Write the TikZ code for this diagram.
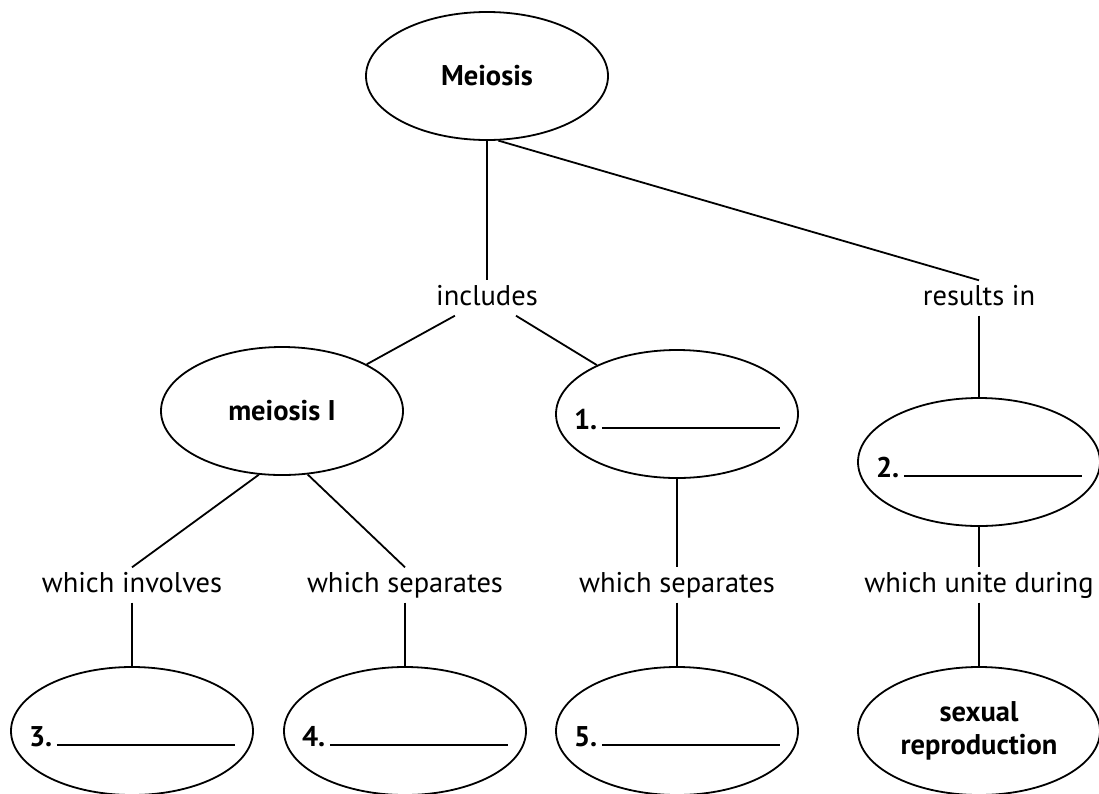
\documentclass[tikz,border=0pt]{standalone}
\usepackage{fontspec}
\setmainfont{PT Sans}
\usetikzlibrary{shapes.geometric, positioning}
\tikzset{
  conceptbox/.style={
    ellipse,
    draw=black,
    line width=1.8pt,
    minimum width=242pt,
    minimum height=128pt,
    inner sep=0pt,
    align=center,
    font=\bfseries\fontsize{28.5}{33}\selectfont
  },
  blankbox/.style={
    conceptbox,
    inner xsep=-20pt,
    text height=30pt,
    text depth=0pt
  },
  linklabel/.style={
    font=\fontsize{28.5}{33}\selectfont,
    text height=20pt,
    text depth=5pt,
    inner sep=5pt
  },
  linkline/.style={
    line width=1.8pt,
    draw=black
  }
}
\newcommand{\blankline}[1]{#1.\,\rule{178pt}{1.6pt}}

\begin{document}
\begin{tikzpicture}[x=1pt, y=-1pt]

  \path [use as bounding box, fill=white] (0,0) rectangle (1099,793);

  % Concepts
  \node (meiosis) [conceptbox] at (487,76) {Meiosis};
  \node (meiosisI) [conceptbox] at (282,411) {meiosis I};
  \node (first) [blankbox] at (677,414) {\blankline{1}};
  \node (second) [blankbox] at (979,462) {\blankline{2}};
  \node (third) [blankbox] at (132,731) {\blankline{3}};
  \node (fourth) [blankbox] at (405,731) {\blankline{4}};
  \node (fifth) [blankbox] at (677,731) {\blankline{5}};
  \node (sexual) [conceptbox] at (979,731) {sexual\\reproduction};

  % Linking words
  \node (includes) [linklabel] at (487,298) {includes};
  \node (resultsin) [linklabel] at (979,298) {results in};
  \node (involves) [linklabel] at (132,585) {which involves};
  \node (separatesI) [linklabel] at (405,585) {which separates};
  \node (separatesII) [linklabel] at (677,585) {which separates};
  \node (unite) [linklabel] at (979,585) {which unite during};

  % Connectors
  \draw [linkline] (meiosis.south) -- (includes.north);
  \draw [linkline] (meiosis.-80) -- (resultsin.north);
  \draw [linkline] (includes) -- (meiosisI);
  \draw [linkline] (includes) -- (first);
  \draw [linkline] (resultsin.south) -- (second.north);
  \draw [linkline] (meiosisI.-110) -- (involves.north);
  \draw [linkline] (meiosisI.-68) -- (separatesI.north);
  \draw [linkline] (first.south) -- (separatesII.north);
  \draw [linkline] (second.south) -- (unite.north);
  \draw [linkline] (involves.south) -- (third.north);
  \draw [linkline] (separatesI.south) -- (fourth.north);
  \draw [linkline] (separatesII.south) -- (fifth.north);
  \draw [linkline] (unite.south) -- (sexual.north);

\end{tikzpicture}
\end{document}
